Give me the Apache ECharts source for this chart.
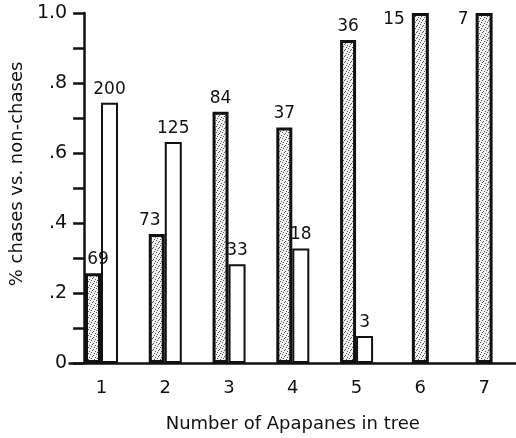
<!DOCTYPE html>
<html>
<head>
<meta charset="utf-8">
<script src="https://cdn.jsdelivr.net/npm/echarts@6/dist/echarts.min.js"></script>
<style>
  html, body { margin: 0; padding: 0; background: #fff; }
  #main { width: 516px; height: 438px; }
</style>
</head>
<body>
<div id="main"></div>
<script>
// number of Apapanes in the tree
const categories = ['1', '2', '3', '4', '5', '6', '7'];
// counts written above the bars
const chaseCounts = [69, 73, 84, 37, 36, 15, 7];
const nonChaseCounts = [200, 125, 33, 18, 3, 0, 0];

// bar height = share of each kind of encounter
const share = (a, b) => a / (a + b);
const chaseShare = chaseCounts.map((c, i) => share(c, nonChaseCounts[i]));
const nonChaseShare = nonChaseCounts.map((n, i) => share(n, chaseCounts[i]));

// stipple fill for the chase bars
const pat = document.createElement('canvas');
pat.width = pat.height = 6;
const pctx = pat.getContext('2d');
pctx.fillStyle = '#f0f0f0';
pctx.fillRect(0, 0, 6, 6);
pctx.fillStyle = '#555';
[[0, 0], [3, 1], [5, 3], [1, 4], [4, 5], [2, 2]].forEach(p => pctx.fillRect(p[0], p[1], 1, 1));

const font = 'DejaVu Sans';
const ink = '#111';

// small label nudges seen on the figure
const chaseLabelShift = { 0: [5, 0], 1: [-7, 0] };

const pairedChase = chaseShare.map((v, i) => {
    if (nonChaseCounts[i] === 0) return '-';
    return { value: v, label: { offset: chaseLabelShift[i] || [0, 0] } };
});
const pairedNon = nonChaseShare.map((v, i) => nonChaseCounts[i] === 0 ? '-' : v);
const soloChase = chaseShare.map((v, i) => nonChaseCounts[i] === 0 ? v : '-');

const myChart = echarts.init(document.getElementById('main'), null, { renderer: 'canvas' });
const labelStyle = { color: ink, fontFamily: font, fontSize: 17 };

myChart.setOption({
    animation: false,
    grid: { left: 69.5, right: -22.5, top: 13, bottom: 75 },
    xAxis: [{
        type: 'category',
        data: categories,
        boundaryGap: true,
        name: 'Number of Apapanes in tree',
        nameLocation: 'middle',
        nameGap: 52,
        nameTextStyle: { color: ink, fontFamily: font, fontSize: 18 },
        axisLine: { lineStyle: { color: ink, width: 2.5 } },
        axisTick: {
            alignWithLabel: true, length: 10,
            interval: i => nonChaseCounts[i] > 0,
            lineStyle: { color: ink, width: 2.5 }
        },
        axisLabel: { color: ink, fontFamily: font, fontSize: 18, margin: 16 },
        splitLine: { show: false }
    }, {
        type: 'category',
        data: categories,
        boundaryGap: true,
        show: false
    }],
    yAxis: {
        type: 'value',
        min: 0, max: 1, interval: 0.2,
        offset: -14.5,
        name: '% chases vs. non-chases',
        nameLocation: 'middle',
        nameGap: 48,
        nameTextStyle: { color: ink, fontFamily: font, fontSize: 18, padding: [0, 0, 0, 28] },
        axisLine: { show: true, lineStyle: { color: ink, width: 2.5 } },
        axisTick: { show: true, length: 11, lineStyle: { color: ink, width: 2.5 } },
        minorTick: { show: true, splitNumber: 2, length: 11, lineStyle: { color: ink, width: 2.5 } },
        axisLabel: {
            color: ink, fontFamily: font, fontSize: 19, margin: 17,
            formatter: v => {
                const t = Math.round(v * 10);
                if (t === 0) return '0';
                if (t === 10) return '1.0';
                return '.' + t;
            }
        },
        splitLine: { show: false }
    },
    series: [{
        type: 'bar',
        xAxisIndex: 0,
        data: pairedChase,
        barWidth: 16,
        barGap: '0%',
        itemStyle: { color: { image: pat, repeat: 'repeat' }, borderColor: ink, borderWidth: 3 },
        label: {
            show: true, position: 'top', distance: 5, ...labelStyle,
            formatter: p => chaseCounts[p.dataIndex]
        }
    }, {
        type: 'bar',
        xAxisIndex: 0,
        data: pairedNon,
        barWidth: 17,
        itemStyle: { color: '#fff', borderColor: ink, borderWidth: 2 },
        label: {
            show: true, position: 'top', distance: 5, ...labelStyle,
            formatter: p => nonChaseCounts[p.dataIndex]
        }
    }, {
        type: 'bar',
        xAxisIndex: 1,
        data: soloChase,
        barWidth: 17,
        itemStyle: { color: { image: pat, repeat: 'repeat' }, borderColor: ink, borderWidth: 3 },
        label: {
            show: true, position: [-7, -2], align: 'right', verticalAlign: 'top', ...labelStyle,
            formatter: p => chaseCounts[p.dataIndex]
        }
    }]
});
</script>
</body>
</html>
